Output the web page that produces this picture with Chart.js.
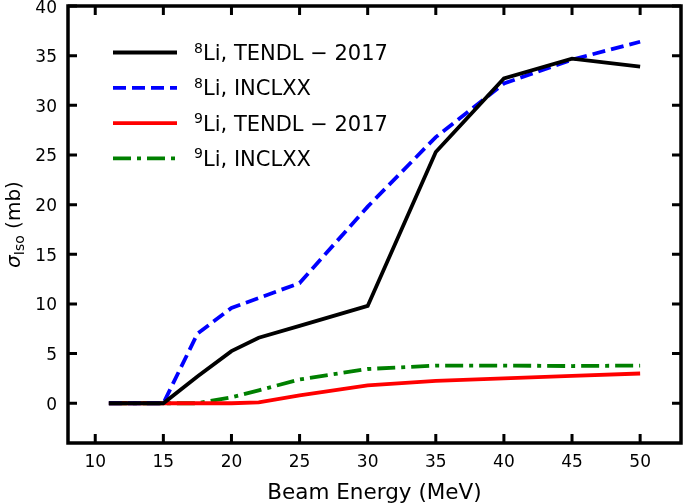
<!DOCTYPE html>
<html lang="en">
<head>
    <meta charset="UTF-8">
    <title>Li isotope production cross sections</title>
    <script src="https://cdn.jsdelivr.net/npm/chart.js"></script>
    <style>
        html, body {
            margin: 0;
            padding: 0;
            background: #ffffff;
        }
        #wrap {
            width: 685px;
            height: 504px;
        }
    </style>
</head>
<body>
    <div id="wrap"><canvas id="chart" width="685" height="504"></canvas></div>

    <script>
        // beam energies (MeV)
        const energies = [11, 15, 17.5, 20, 22, 25, 30, 35, 40, 45, 50];

        // cross sections (mb)
        const li8Tendl = [0, 0, 2.7, 5.25, 6.6, 7.8, 9.8, 25.3, 32.7, 34.7, 33.9];
        const li8Incl  = [0, 0, 7.0, 9.6, 10.6, 12.1, 19.8, 26.8, 32.2, 34.6, 36.4];
        const li9Tendl = [0, 0, 0, 0, 0.1, 0.8, 1.8, 2.25, 2.5, 2.75, 3.0];
        const li9Incl  = [0, 0, 0, 0.6, 1.3, 2.4, 3.45, 3.8, 3.8, 3.75, 3.8];

        const xTicks = [10, 15, 20, 25, 30, 35, 40, 45, 50];
        const yTicks = [0, 5, 10, 15, 20, 25, 30, 35, 40];

        const legendItems = [
            { mass: '8', text: 'Li, TENDL \u2212 2017', color: '#000000', dash: [] },
            { mass: '8', text: 'Li, INCLXX', color: '#0000ff', dash: [13, 6] },
            { mass: '9', text: 'Li, TENDL \u2212 2017', color: '#ff0000', dash: [] },
            { mass: '9', text: 'Li, INCLXX', color: '#008000', dash: [18, 6, 4, 6] }
        ];

        const FONT = '"DejaVu Sans", sans-serif';

        function pairs(ys) {
            return energies.map((e, i) => ({ x: e, y: ys[i] }));
        }

        function series(ys, item) {
            return {
                data: pairs(ys),
                borderColor: item.color,
                borderWidth: 3.8,
                borderDash: item.dash,
                borderCapStyle: 'butt',
                pointRadius: 0,
                showLine: true,
                fill: false,
                tension: 0
            };
        }

        // frame, inward ticks, tick labels, legend and axis titles
        const decorations = {
            id: 'decorations',
            afterDraw(chart) {
                const ctx = chart.ctx;
                const a = chart.chartArea;
                const xs = chart.scales.x;
                const ys = chart.scales.y;
                ctx.save();
                ctx.strokeStyle = '#000';
                ctx.lineWidth = 3;
                ctx.lineCap = 'butt';
                ctx.beginPath();
                xTicks.forEach(t => {
                    const px = xs.getPixelForValue(t);
                    ctx.moveTo(px, a.bottom); ctx.lineTo(px, a.bottom - 9);
                    ctx.moveTo(px, a.top); ctx.lineTo(px, a.top + 9);
                });
                yTicks.forEach(t => {
                    const py = ys.getPixelForValue(t);
                    ctx.moveTo(a.left, py); ctx.lineTo(a.left + 9, py);
                    ctx.moveTo(a.right, py); ctx.lineTo(a.right - 9, py);
                });
                ctx.stroke();
                ctx.lineWidth = 3.5;
                ctx.lineJoin = 'miter';
                ctx.strokeRect(a.left, a.top, a.right - a.left, a.bottom - a.top);

                // tick labels
                ctx.fillStyle = '#000';
                ctx.font = '17px ' + FONT;
                ctx.textAlign = 'center';
                ctx.textBaseline = 'alphabetic';
                xTicks.forEach(t => {
                    ctx.fillText(String(t), xs.getPixelForValue(t), a.bottom + 24);
                });
                ctx.textAlign = 'right';
                yTicks.forEach(t => {
                    ctx.fillText(String(t), a.left - 11, ys.getPixelForValue(t) + 6.5);
                });

                // legend
                let y0 = 52.5;
                legendItems.forEach(item => {
                    ctx.beginPath();
                    ctx.strokeStyle = item.color;
                    ctx.lineWidth = 3.8;
                    ctx.setLineDash(item.dash);
                    ctx.moveTo(113, y0);
                    ctx.lineTo(177, y0);
                    ctx.stroke();
                    ctx.setLineDash([]);
                    ctx.fillStyle = '#000';
                    ctx.textAlign = 'left';
                    ctx.font = '14px ' + FONT;
                    ctx.fillText(item.mass, 194, y0);
                    ctx.font = '21px ' + FONT;
                    ctx.fillText(item.text, 203, y0 + 7.5);
                    y0 += 35.3;
                });

                // x title
                ctx.font = '21.5px ' + FONT;
                ctx.textAlign = 'center';
                ctx.fillText('Beam Energy (MeV)', (a.left + a.right) / 2, 499);

                // y title (rotated)
                ctx.translate(20, (a.top + a.bottom) / 2);
                ctx.rotate(-Math.PI / 2);
                const partA = '\u03c3';
                const partB = 'Iso';
                const partC = ' (mb)';
                ctx.font = 'italic 20px ' + FONT;
                const wA = ctx.measureText(partA).width;
                ctx.font = '14px ' + FONT;
                const wB = ctx.measureText(partB).width;
                ctx.font = '20px ' + FONT;
                const wC = ctx.measureText(partC).width;
                let x = -(wA + wB + wC) / 2;
                ctx.textAlign = 'left';
                ctx.font = 'italic 20px ' + FONT;
                ctx.fillText(partA, x, 0);
                x += wA;
                ctx.font = '14px ' + FONT;
                ctx.fillText(partB, x, 4);
                x += wB;
                ctx.font = '20px ' + FONT;
                ctx.fillText(partC, x, 0);
                ctx.restore();
            }
        };

        new Chart(document.getElementById('chart'), {
            type: 'scatter',
            data: {
                datasets: [
                    series(li8Tendl, legendItems[0]),
                    series(li8Incl, legendItems[1]),
                    series(li9Tendl, legendItems[2]),
                    series(li9Incl, legendItems[3])
                ]
            },
            options: {
                responsive: false,
                animation: false,
                devicePixelRatio: 1,
                layout: { padding: { top: 6, right: 4, left: 0, bottom: 0 } },
                plugins: {
                    legend: { display: false },
                    tooltip: { enabled: false }
                },
                scales: {
                    x: {
                        type: 'linear',
                        min: 8,
                        max: 53,
                        afterBuildTicks: s => { s.ticks = xTicks.map(v => ({ value: v })); },
                        afterFit: s => { s.height = 61; },
                        grid: { display: false, drawTicks: false },
                        border: { display: false },
                        ticks: { display: false }
                    },
                    y: {
                        type: 'linear',
                        min: -4,
                        max: 40,
                        afterBuildTicks: s => { s.ticks = yTicks.map(v => ({ value: v })); },
                        afterFit: s => { s.width = 68; },
                        grid: { display: false, drawTicks: false },
                        border: { display: false },
                        ticks: { display: false }
                    }
                }
            },
            plugins: [decorations]
        });
    </script>
</body>
</html>
